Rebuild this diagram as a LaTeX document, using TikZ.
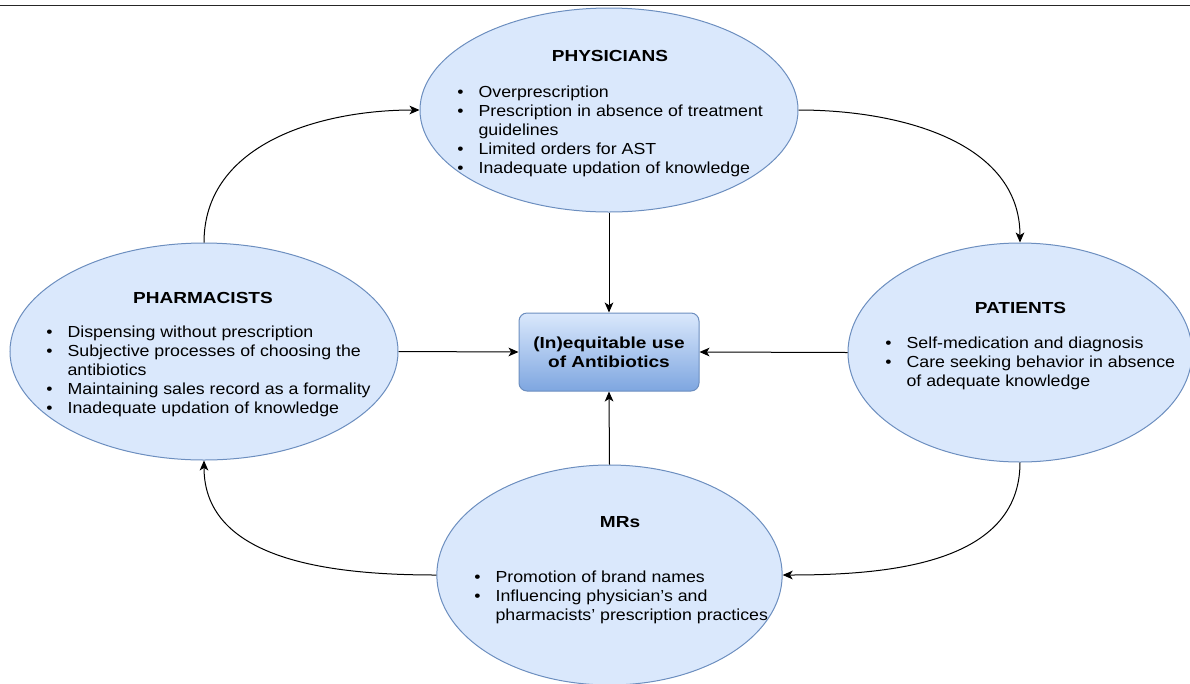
\documentclass[tikz,border=0pt]{standalone}
\usepackage{fontspec}
\setmainfont{Liberation Sans}[FakeStretch=1.11, BoldFeatures={FakeStretch=1.19}]
\usetikzlibrary{arrows.meta, shapes.geometric, positioning}
\definecolor{ovalfill}{HTML}{DAE8FC}
\definecolor{ovaldraw}{HTML}{6C8EBF}
\definecolor{boxbottom}{HTML}{7EA6E0}
\newcommand{\itm}{\makebox[16pt][l]{\textbullet}}
\newcommand{\cnt}{\hspace*{16pt}}

\begin{document}
\begin{tikzpicture}[x=0.75pt, y=-0.75pt,
    actor/.style={ellipse, draw=ovaldraw, fill=ovalfill, line width=0.75pt, inner sep=0pt},
    title/.style={anchor=base, inner sep=0pt, font=\fontsize{12}{14.25}\selectfont\bfseries},
    items/.style={anchor=base west, inner sep=0pt, font=\fontsize{12}{14.25}\selectfont},
    centre/.style={rectangle, rounded corners=6pt, draw=ovaldraw, line width=0.75pt, top color=ovalfill, bottom color=boxbottom, minimum width=135pt, minimum height=58.5pt, align=center, font=\fontsize{12}{14}\selectfont\bfseries},
    arrow/.style={-{Stealth[length=7.5pt, width=6.5pt, inset=2pt]}, line width=0.75pt, draw=black},
]

\useasboundingbox (0,0) rectangle (1190,683);
% frame line at the top
\draw[line width=1.1pt, black!85] (0,5.5) -- (1190,5.5);

% Actor ellipses
\node[actor, minimum width=283.5pt, minimum height=153pt] (phys) at (609,110) {};
\node[actor, minimum width=291pt, minimum height=162.75pt] (pharm) at (204,351.5) {};
\node[actor, minimum width=258pt, minimum height=164.25pt] (pat) at (1020,352.5) {};
\node[actor, minimum width=259pt, minimum height=165pt] (mrs) at (609.5,575) {};

% Central outcome
\node[centre] (use) at (609,352) {(In)equitable use\\of Antibiotics};

% Titles
\node[title] (physT) at (610,61.5) {PHYSICIANS};
\node[title] (pharmT) at (203,303) {PHARMACISTS};
\node[title] (patT) at (1020.5,313) {PATIENTS};
\node[title] (mrsT) at (620,527.5) {MRs};

% Bullet lists
\node[items] (physL) at (457,97) {\begin{tabular}[t]{@{}l@{}}
    \itm Overprescription\\
    \itm Prescription in absence of treatment\\
    \cnt guidelines\\
    \itm Limited orders for AST\\
    \itm Inadequate updation of knowledge
  \end{tabular}};
\node[items] (pharmL) at (46,337.5) {\begin{tabular}[t]{@{}l@{}}
    \itm Dispensing without prescription\\
    \itm Subjective processes of choosing the\\
    \cnt antibiotics\\
    \itm Maintaining sales record as a formality\\
    \itm Inadequate updation of knowledge
  \end{tabular}};
\node[items] (patL) at (885,348.5) {\begin{tabular}[t]{@{}l@{}}
    \itm Self-medication and diagnosis\\
    \itm Care seeking behavior in absence\\
    \cnt of adequate knowledge
  \end{tabular}};
\node[items] (mrsL) at (474,582) {\begin{tabular}[t]{@{}l@{}}
    \itm Promotion of brand names\\
    \itm Influencing physician's and\\
    \cnt pharmacists' prescription practices
  \end{tabular}};

% Straight arrows into the centre
\draw[arrow] (phys.south) -- (use.north);
\draw[arrow] (pharm.east) -- (use.west);
\draw[arrow] (pat.west) -- (use.east);
\draw[arrow] (mrs.north) -- (use.south);

% Curved cycle
\draw[arrow] (pharm.north) to[out=90, in=180] (phys.west);
\draw[arrow] (phys.east) to[out=0, in=90] (pat.north);
\draw[arrow] (pat.south) to[out=270, in=0] (mrs.east);
\draw[arrow] (mrs.west) to[out=180, in=270] (pharm.south);

\end{tikzpicture}
\end{document}
